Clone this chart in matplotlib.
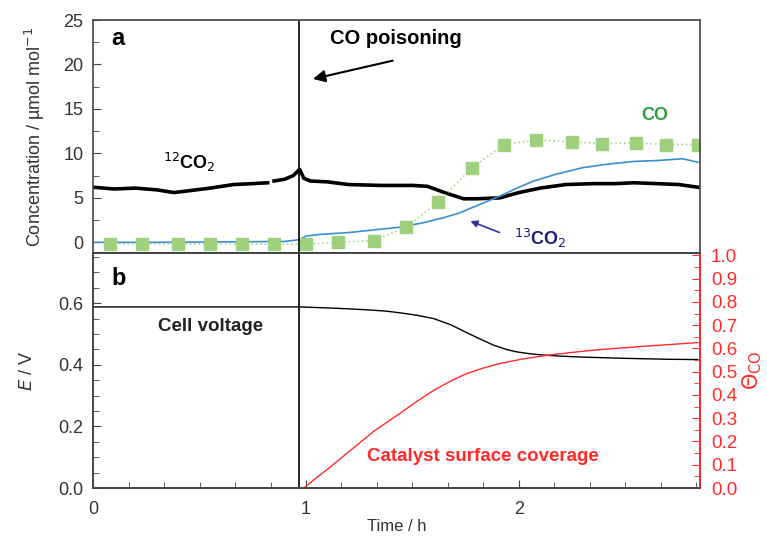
import matplotlib.pyplot as plt
import numpy as np
from matplotlib.ticker import MultipleLocator

plt.rcParams['font.family'] = ['Liberation Sans', 'DejaVu Sans']

# 12CO2 (black, thick)
t_12co2 = [0.0, 0.1, 0.2, 0.3, 0.38, 0.45, 0.55, 0.66, 0.75, 0.82, np.nan,
           0.85, 0.9, 0.94, 0.97, 0.99, 1.02, 1.1, 1.2, 1.35, 1.5, 1.57, 1.65,
           1.74, 1.8, 1.91, 2.0, 2.1, 2.22, 2.35, 2.45, 2.54, 2.65, 2.75, 2.84]
c_12co2 = [6.2, 6.0, 6.1, 5.9, 5.6, 5.8, 6.1, 6.5, 6.6, 6.7, np.nan,
           6.9, 7.1, 7.5, 8.2, 7.2, 6.9, 6.8, 6.5, 6.4, 6.4, 6.3, 5.6,
           4.9, 4.9, 5.0, 5.6, 6.1, 6.5, 6.6, 6.6, 6.7, 6.6, 6.5, 6.2]

# 13CO2 (blue, thin)
t_13co2 = [0.0, 0.3, 0.6, 0.9, 0.97, 1.0, 1.07, 1.2, 1.32, 1.44, 1.55, 1.65,
           1.72, 1.8, 1.91, 2.0, 2.07, 2.18, 2.3, 2.42, 2.54, 2.65, 2.77, 2.84]
c_13co2 = [0.0, 0.0, 0.05, 0.1, 0.3, 0.7, 0.9, 1.1, 1.4, 1.7, 2.2, 2.8,
           3.3, 4.1, 5.2, 6.2, 6.9, 7.7, 8.4, 8.8, 9.1, 9.2, 9.4, 9.0]

# CO (green squares)
t_co = [0.08, 0.23, 0.40, 0.55, 0.70, 0.85, 1.0, 1.15, 1.32, 1.47, 1.62,
        1.78, 1.93, 2.08, 2.25, 2.39, 2.55, 2.69, 2.84]
c_co = [-0.2, -0.2, -0.2, -0.2, -0.2, -0.2, -0.2, 0.0, 0.2, 1.7, 4.5,
        8.4, 11.0, 11.5, 11.3, 11.1, 11.2, 11.0, 11.0]

# Cell voltage
t_volt = [0.0, 0.5, 0.97, 1.05, 1.13, 1.22, 1.3, 1.38, 1.44, 1.52, 1.6,
          1.68, 1.75, 1.82, 1.88, 1.94, 1.99, 2.05, 2.11, 2.2, 2.3, 2.5,
          2.7, 2.84]
e_volt = [0.588, 0.588, 0.588, 0.586, 0.584, 0.581, 0.578, 0.574, 0.569,
          0.561, 0.550, 0.530, 0.506, 0.483, 0.464, 0.450, 0.442, 0.436,
          0.432, 0.428, 0.425, 0.421, 0.418, 0.417]

# CO coverage
t_cov = [0.99, 1.05, 1.1, 1.2, 1.32, 1.44, 1.52, 1.6, 1.68, 1.75, 1.83,
         1.91, 2.02, 2.13, 2.25, 2.38, 2.6, 2.84]
theta_cov = [0.0, 0.045, 0.08, 0.155, 0.245, 0.32, 0.372, 0.42, 0.46,
             0.49, 0.515, 0.535, 0.555, 0.57, 0.583, 0.595, 0.61, 0.625]

t_poison = 0.967

grey = '#444444'
red = '#ff2a2a'
fig = plt.figure(figsize=(7.67, 5.44), dpi=100)
ax1 = fig.add_axes([0.1213, 0.5349, 0.7913, 0.4283])
ax2 = fig.add_axes([0.1213, 0.1029, 0.7913, 0.4320])
ax3 = ax2.twinx()

for ax in (ax1, ax2, ax3):
    for s in ax.spines.values():
        s.set_color(grey)
        s.set_linewidth(1.2)
    ax.tick_params(which='both', direction='in', colors=grey, labelsize=13,
                   labelcolor='#333333', pad=7)
    ax.tick_params(which='major', length=6)
    ax.tick_params(which='minor', length=4)

# panel a
ax1.plot(t_12co2, c_12co2, color='black', lw=2.6)
ax1.plot(t_13co2, c_13co2, color='#3b8fd0', lw=1.2)
ax1.plot(t_co, c_co, ls=':', color='#a8d88a', lw=1.2, marker='s', ms=8,
         mfc='#9fd07e', mec='#9fd07e')
ax1.axvline(t_poison, color='black', lw=1.2)
ax1.set_xlim(0, 2.85)
ax1.set_ylim(-1.2, 25)
ax1.yaxis.set_major_locator(MultipleLocator(5))
ax1.yaxis.set_minor_locator(MultipleLocator(2.5))
ax1.tick_params(axis='x', which='both', bottom=False, labelbottom=False)
ax1.set_ylabel('Concentration / µmol mol$^{-1}$', fontsize=13,
               color='#333333', labelpad=12)
ax1.text(0.03, 0.92, 'a', transform=ax1.transAxes, fontsize=17,
         fontweight='bold', va='center')
ax1.text(1.42, 22.9, 'CO poisoning', fontsize=14.5, fontweight='bold',
         ha='center', va='center')
ax1.annotate('', xy=(1.02, 18.3), xytext=(1.42, 20.5),
             arrowprops=dict(arrowstyle='-|>', color='black', lw=1.5,
                             mutation_scale=18))
ax1.text(0.45, 9.0, '$^{12}$CO$_2$', fontsize=13, fontweight='bold',
         ha='center', va='center')
ax1.text(2.64, 14.3, 'CO', fontsize=13, fontweight='bold', color='#2e9e3a',
         ha='center', va='center')
ax1.text(2.1, 0.4, '$^{13}$CO$_2$', fontsize=13, fontweight='bold',
         color='#1c1c7a', ha='center', va='center')
ax1.annotate('', xy=(1.76, 2.5), xytext=(1.92, 1.0),
             arrowprops=dict(arrowstyle='-|>', color='#3030a0', lw=1.2,
                             mutation_scale=10))

# panel b
ax2.plot(t_volt, e_volt, color='black', lw=1.0)
ax2.axvline(t_poison, color='black', lw=1.2)
ax2.set_xlim(0, 2.85)
ax2.set_ylim(0, 0.763)
ax2.yaxis.set_major_locator(MultipleLocator(0.2))
ax2.yaxis.set_minor_locator(MultipleLocator(0.05))
ax2.yaxis.set_major_formatter(plt.FormatStrFormatter('%.1f'))
ax2.xaxis.set_major_locator(MultipleLocator(1))
ax2.xaxis.set_minor_locator(MultipleLocator(1 / 6))
ax2.tick_params(axis='both', which='both', right=False, top=False)
ax2.tick_params(axis='x', pad=9)
ax2.set_xlabel('Time / h', fontsize=12, color='#333333', labelpad=1)
ax2.set_ylabel('$E$ / V', fontsize=13, color='#333333', labelpad=16)
ax2.text(0.03, 0.89, 'b', transform=ax2.transAxes, fontsize=17,
         fontweight='bold', va='center')
ax2.text(0.55, 0.525, 'Cell voltage', fontsize=13.5, fontweight='bold',
         color='#222222', ha='center', va='center')

ax3.plot(t_cov, theta_cov, color=red, lw=1.0)
ax3.set_ylim(0, 1.01)
ax3.yaxis.set_major_locator(MultipleLocator(0.1))
ax3.yaxis.set_minor_locator(MultipleLocator(0.05))
ax3.yaxis.set_major_formatter(plt.FormatStrFormatter('%.1f'))
ax3.tick_params(which='both', colors=red, labelcolor=red, labelsize=13.5,
                pad=8)
ax3.spines['right'].set_color(red)
ax3.set_ylabel('$\\Theta_{\\mathrm{CO}}$', fontsize=15, color=red,
               labelpad=2)
ax3.text(1.83, 0.134, 'Catalyst surface coverage', fontsize=13.5,
         fontweight='bold', color=red, ha='center', va='center')

fig.savefig('out.png', dpi=100)
